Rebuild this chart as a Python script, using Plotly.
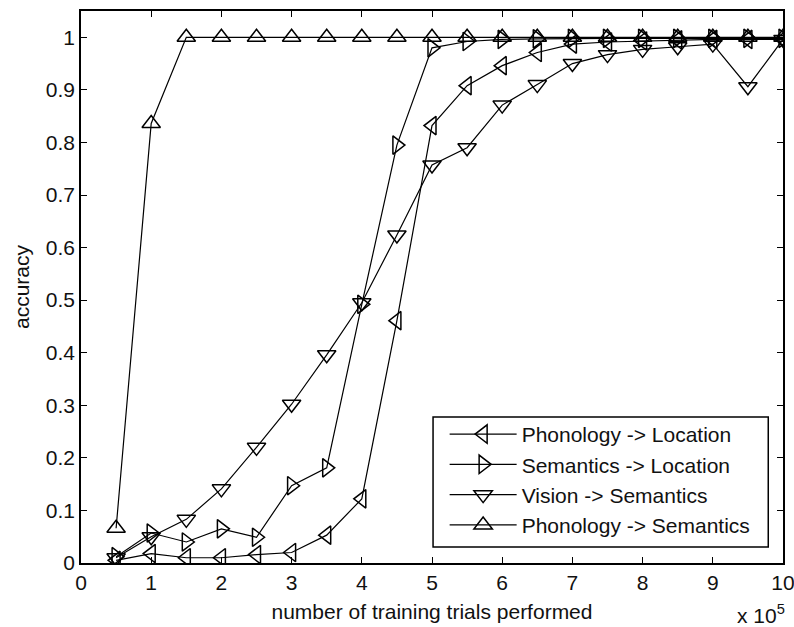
import plotly.graph_objects as go

# training trials (in units of 1e5)
trials = [0.5, 1, 1.5, 2, 2.5, 3, 3.5, 4, 4.5, 5,
          5.5, 6, 6.5, 7, 7.5, 8, 8.5, 9, 9.5, 10]

phon_loc = [0.005, 0.018, 0.010, 0.010, 0.016, 0.020, 0.053, 0.122, 0.461, 0.832,
            0.908, 0.946, 0.971, 0.987, 0.991, 0.993, 0.995, 0.996, 0.996, 0.996]
sem_loc = [0.012, 0.057, 0.040, 0.065, 0.049, 0.147, 0.181, 0.492, 0.795, 0.980,
           0.992, 0.996, 0.997, 0.998, 0.998, 0.998, 0.998, 0.998, 0.998, 0.998]
vis_sem = [0.010, 0.050, 0.083, 0.141, 0.220, 0.302, 0.396, 0.495, 0.624, 0.757,
           0.790, 0.871, 0.910, 0.950, 0.967, 0.977, 0.982, 0.987, 0.906, 0.996]
phon_sem = [0.066, 0.836, 1.0, 1.0, 1.0, 1.0, 1.0, 1.0, 1.0, 1.0,
            1.0, 1.0, 1.0, 1.0, 1.0, 1.0, 1.0, 1.0, 1.0, 1.0]

series_names = ["Phonology -> Location", "Semantics -> Location",
                "Vision -> Semantics", "Phonology -> Semantics"]
series_values = [phon_loc, sem_loc, vis_sem, phon_sem]
series_symbols = ["triangle-left-open", "triangle-right-open",
                  "triangle-down-open", "triangle-up-open"]

x_ticks = list(range(0, 11))
y_ticks = [round(0.1 * i, 1) for i in range(0, 11)]
y_tick_text = ["0", "0.1", "0.2", "0.3", "0.4", "0.5", "0.6", "0.7", "0.8", "0.9", "1"]

FONT = "Arial, Liberation Sans, sans-serif"
FS = 21

fig = go.Figure()
for name, vals, sym in zip(series_names, series_values, series_symbols):
    fig.add_trace(go.Scatter(
        x=trials, y=vals, name=name, mode="lines+markers",
        line=dict(color="black", width=1.2),
        marker=dict(symbol=sym, size=16, color="black",
                    line=dict(color="black", width=1.5)),
    ))

axis_common = dict(
    showline=True, linecolor="black", linewidth=1.6, mirror="ticks",
    ticks="inside", ticklen=6, tickwidth=1.2, tickcolor="black",
    showgrid=False, zeroline=False, automargin=False,
    ticklabeloverflow="allow",
    tickfont=dict(family=FONT, size=FS, color="#111"),
)

fig.update_xaxes(range=[0, 10], tickvals=x_ticks,
                 title=dict(text="number of training trials performed",
                            font=dict(family=FONT, size=FS, color="#111"),
                            standoff=11),
                 **axis_common)
fig.update_yaxes(range=[0, 1.05], tickvals=y_ticks, ticktext=y_tick_text,
                 title=dict(text="accuracy",
                            font=dict(family=FONT, size=FS, color="#111"),
                            standoff=10),
                 **axis_common)

# exponent label under the right end of the x axis
fig.add_annotation(xref="paper", yref="paper", x=1.005, y=-0.120,
                   xanchor="right", yanchor="bottom", showarrow=False,
                   text="x 10<sup>5</sup>",
                   font=dict(family=FONT, size=FS, color="#111"))

# framed box behind the legend entries
fig.add_shape(type="rect", xref="paper", yref="paper",
              x0=0.5015, x1=0.979, y0=0.029, y1=0.2645,
              line=dict(color="black", width=1.5), fillcolor="white",
              layer="below")

fig.update_layout(
    width=794, height=627,
    margin=dict(l=81, r=11, t=11, b=64, autoexpand=False),
    paper_bgcolor="white", plot_bgcolor="white",
    showlegend=True,
    legend=dict(x=0.518, y=0.031, xanchor="left", yanchor="bottom",
                bgcolor="rgba(0,0,0,0)", borderwidth=0,
                font=dict(family=FONT, size=FS, color="#111"),
                itemwidth=67, tracegroupgap=0),
)

fig.write_html("out.html")
